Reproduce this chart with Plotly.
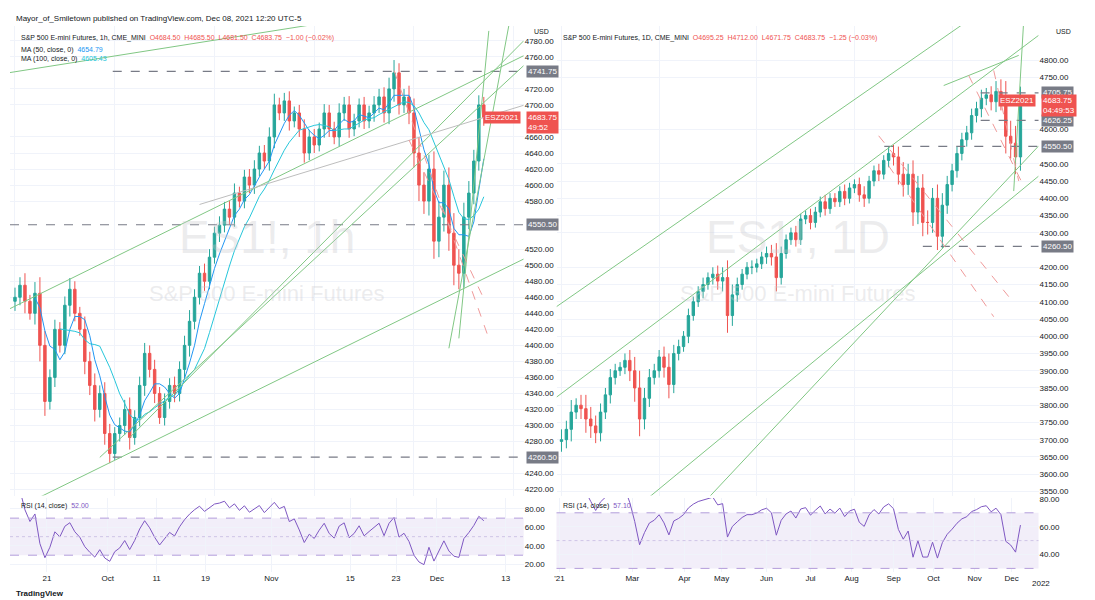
import numpy as np
import pandas as pd
import plotly.graph_objects as go

# ES1! 1h (left panel) - approx closes
close_1h = [4460, 4475, 4455, 4440, 4465, 4400, 4330, 4360, 4420, 4400, 4450, 4470, 4440, 4420, 4380,
            4350, 4320, 4340, 4290, 4265, 4290, 4300, 4320, 4285, 4310, 4350, 4390, 4370, 4340, 4310,
            4330, 4350, 4340, 4370, 4400, 4430, 4460, 4490, 4480, 4510, 4540, 4550, 4570, 4560, 4590,
            4580, 4610, 4600, 4620, 4640, 4630, 4660, 4700, 4690, 4705, 4680, 4690, 4670, 4640, 4660,
            4650, 4670, 4690, 4670, 4660, 4690, 4700, 4670, 4680, 4700, 4680, 4690, 4700, 4710, 4690,
            4720, 4740, 4700, 4710, 4690, 4640, 4600, 4580, 4620, 4530, 4560, 4600, 4540, 4500, 4490,
            4560, 4590, 4630, 4700, 4684]
wick_1h = [12, 10, 15, 8, 14, 20, 18, 10, 12, 9, 11, 14, 10, 8, 16, 12, 15, 10, 14, 12, 8, 10, 12, 15,
           9, 11, 13, 10, 12, 8, 10, 9, 11, 10, 12, 14, 10, 9, 12, 10, 8, 11, 9, 10, 12, 8, 9, 10, 11,
           9, 10, 12, 14, 9, 10, 12, 8, 10, 12, 9, 10, 8, 11, 10, 9, 12, 10, 11, 9, 8, 10, 9, 11, 10,
           12, 14, 16, 12, 10, 14, 18, 20, 16, 18, 22, 20, 18, 22, 25, 20, 18, 15, 14, 12, 10]
ticks_1h_pos = [6.4, 18.6, 28.4, 38.2, 51.4, 67.2, 76.4, 84.6, 98.4]
ticks_1h_txt = ["21", "Oct", "11", "19", "Nov", "15", "23", "Dec", "13"]
levels_1h = [4741.75, 4550.50, 4260.50]

# ES1! 1D (right panel)
close_1d = [3700, 3730, 3780, 3800, 3790, 3760, 3740, 3720, 3780, 3830, 3880, 3900, 3910, 3930, 3900,
            3850, 3760, 3820, 3880, 3900, 3940, 3910, 3860, 3950, 3970, 4000, 4060, 4100, 4130, 4150,
            4170, 4180, 4160, 4170, 4060, 4120, 4150, 4180, 4200, 4200, 4210, 4230, 4240, 4230, 4170,
            4240, 4280, 4300, 4280, 4340, 4350, 4330, 4360, 4390, 4370, 4400, 4390, 4420, 4400, 4430,
            4440, 4410, 4400, 4450, 4480, 4470, 4510, 4530, 4520, 4470, 4440, 4470, 4360, 4430, 4330,
            4330, 4400, 4290, 4380, 4440, 4480, 4530, 4570, 4590, 4640, 4660, 4690, 4700, 4680, 4710,
            4690, 4580, 4560, 4520, 4684]
wick_1d = [30, 25, 35, 20, 30, 40, 35, 30, 25, 20, 25, 20, 15, 20, 30, 40, 50, 30, 25, 20, 20, 30, 40,
           25, 20, 15, 20, 15, 15, 20, 15, 20, 25, 30, 50, 30, 20, 15, 15, 20, 15, 15, 20, 25, 40, 20,
           15, 15, 20, 15, 15, 20, 15, 15, 20, 15, 15, 15, 20, 15, 15, 20, 25, 15, 15, 20, 15, 20, 25,
           30, 35, 30, 40, 35, 40, 35, 30, 40, 35, 25, 20, 20, 20, 20, 20, 20, 25, 20, 25, 30, 35, 50,
           45, 50, 40]
ticks_1d_pos = [-0.4, 14.5, 25.2, 32.8, 42, 51, 59.4, 68, 76.2, 84.6, 92.2]
ticks_1d_txt = ["'21", "Mar", "Apr", "May", "Jun", "Jul", "Aug", "Sep", "Oct", "Nov", "Dec"]
levels_1d = [4705.75, 4626.25, 4550.50, 4260.50]

UP, DN = "#26a69a", "#ef5350"
FONT = "Liberation Sans"


def ohlc(closes, wicks):
    c = np.array(closes, float)
    o = np.r_[c[0] - 5, c[:-1]]
    w = np.array(wicks, float)
    return o, np.maximum(o, c) + w, np.minimum(o, c) - w, c


def rsi(c, n):
    d = pd.Series(c).diff()
    up = d.clip(lower=0).ewm(alpha=1 / n, adjust=False).mean()
    dn = (-d.clip(upper=0)).ewm(alpha=1 / n, adjust=False).mean()
    return (100 - 100 / (1 + up / dn.replace(0, 1e-9))).values


def price_ticks(lo, hi, step, busy, gap):
    # axis ticks, skipping those hidden behind the price-label boxes
    return [t for t in np.arange(lo, hi + 1, step) if all(abs(t - b) > gap for b in busy)]


fig = go.Figure()

L_y = (4212.6, 4798.6); R_y = (3538, 4900)
L_x = (-1, 102); R_x = (-1.02, 97.7)


def lx(p): return (p - 5) / 5
def ly(p): return 4780 - (p - 30) / 0.808
def rx(p): return (p - 553) / 4.88
def ry(p): return 4800 - (p - 55) / 0.343


for closes, wicks, xa, ya, rxa, rya, n, ma in [
        (close_1h, wick_1h, "x", "y", "x2", "y2", 6, True),
        (close_1d, wick_1d, "x3", "y3", "x4", "y4", 9, False)]:
    o, h, l, c = ohlc(closes, wicks)
    idx = np.arange(len(c))
    fig.add_trace(go.Candlestick(x=idx, open=o, high=h, low=l, close=c, xaxis=xa, yaxis=ya,
                                 increasing=dict(line=dict(color=UP, width=1), fillcolor=UP),
                                 decreasing=dict(line=dict(color=DN, width=1), fillcolor=DN),
                                 whiskerwidth=0, showlegend=False))
    if ma:
        fig.add_trace(go.Scatter(x=idx, y=pd.Series(c).rolling(5).mean(), xaxis=xa, yaxis=ya,
                                 mode="lines", line=dict(color="#2196f3", width=1), showlegend=False))
        fig.add_trace(go.Scatter(x=idx, y=pd.Series(c).rolling(10).mean(), xaxis=xa, yaxis=ya,
                                 mode="lines", line=dict(color="#26c6da", width=1), showlegend=False))
    r = rsi(c, n)
    fig.add_trace(go.Scatter(x=idx, y=r, xaxis=rxa, yaxis=rya, mode="lines",
                             line=dict(color="#7e57c2", width=1), showlegend=False))

shapes = []
for xa, ya in [("x2", "y2"), ("x4", "y4")]:
    shapes.append(dict(type="rect", xref=xa + " domain", yref=ya, x0=0, x1=1, y0=30, y1=70,
                       fillcolor="rgba(126,87,194,0.1)", line_width=0, layer="below"))
    for v in (30, 70):
        shapes.append(dict(type="line", xref=xa + " domain", yref=ya, x0=0, x1=1, y0=v, y1=v,
                           line=dict(color="#b39ddb", width=1, dash="dash")))
    shapes.append(dict(type="line", xref=xa + " domain", yref=ya, x0=0, x1=1, y0=50, y1=50,
                       line=dict(color="#cfc4e6", width=1, dash="dot")))

for v in levels_1h:
    shapes.append(dict(type="line", xref="x domain", yref="y", x0=0 if v == 4550.50 else 0.2, x1=1,
                       y0=v, y1=v, line=dict(color="#787b86", width=1.2, dash="dash")))
for v in levels_1d:
    x0 = {4705.75: 0.88, 4626.25: 0.88, 4550.50: 0.68, 4260.50: 0.76}[v]
    shapes.append(dict(type="line", xref="x3 domain", yref="y3", x0=x0, x1=1, y0=v, y1=v,
                       line=dict(color="#787b86", width=1.2, dash="dash")))

G = dict(color="#81c784", width=1)
RD = dict(color="#ef9a9a", width=1, dash="dash")
for (x0, y0, x1, y1), ln in [
        ((0, 62, 515, -20), G), ((0, 300, 515, 45), G), ((30, 490, 515, 250), G),
        ((90, 450, 515, 55), G), ((120, 430, 515, 30), G), ((440, 340, 500, 15), G),
        ((450, 330, 480, 20), G), ((190, 195, 515, 95), dict(color="#bdbdbd", width=1)),
        ((385, 60, 480, 330), RD), ((400, 130, 475, 290), RD)]:
    shapes.append(dict(type="line", xref="x", yref="y", x0=lx(x0), y0=ly(y0), x1=lx(x1), y1=ly(y1), line=ln))
for (x0, y0, x1, y1), ln in [
        ((548, 300, 960, 15), G), ((548, 390, 1030, 30), G), ((640, 490, 1030, 170), G),
        ((700, 490, 1030, 140), G), ((935, 80, 1010, 50), G), ((1005, 185, 1015, 15), G),
        ((870, 130, 1000, 290), RD), ((880, 160, 985, 310), RD), ((960, 70, 1015, 180), RD),
        ((985, 65, 1010, 175), RD)]:
    shapes.append(dict(type="line", xref="x3", yref="y3", x0=rx(x0), y0=ry(y0), x1=rx(x1), y1=ry(y1), line=ln))

ann = []
F = dict(family=FONT, size=8, color="#131722")
ann.append(dict(text="Mayor_of_Smiletown published on TradingView.com, Dec 08, 2021 12:20 UTC-5",
                xref="paper", yref="paper", x=0.004, y=0.999, showarrow=False, xanchor="left", yanchor="top", font=F))
ann.append(dict(text="S&P 500 E-mini Futures, 1h, CME_MINI  <span style='color:#ef5350'>O4684.50  H4685.50  L4681.50  C4683.75  −1.00 (−0.02%)</span>",
                xref="paper", yref="paper", x=0.008, y=0.965, showarrow=False, xanchor="left", yanchor="top", font=dict(F, size=7)))
ann.append(dict(text="MA (50, close, 0)  <span style='color:#2196f3'>4654.79</span><br>MA (100, close, 0)  <span style='color:#26c6da'>4605.43</span>",
                xref="paper", yref="paper", x=0.008, y=0.945, showarrow=False, xanchor="left", yanchor="top", align="left", font=dict(F, size=7)))
ann.append(dict(text="S&P 500 E-mini Futures, 1D, CME_MINI  <span style='color:#ef5350'>O4695.25  H4712.00  L4671.75  C4683.75  −1.25 (−0.03%)</span>",
                xref="paper", yref="paper", x=0.504, y=0.965, showarrow=False, xanchor="left", yanchor="top", font=dict(F, size=7)))
ann.append(dict(text="RSI (14, close)  <span style='color:#7e57c2'>52.00</span>", xref="paper", yref="paper",
                x=0.008, y=0.18, showarrow=False, xanchor="left", yanchor="top", font=dict(F, size=7)))
ann.append(dict(text="RSI (14, close)  <span style='color:#7e57c2'>57.10</span>", xref="paper", yref="paper",
                x=0.504, y=0.18, showarrow=False, xanchor="left", yanchor="top", font=dict(F, size=7)))
WM = "rgba(200,200,205,0.35)"
ann += [dict(text="ES1!, 1h", xref="x domain", yref="y domain", x=0.5, y=0.55, showarrow=False, font=dict(family=FONT, size=46, color=WM)),
        dict(text="S&P 500 E-mini Futures", xref="x domain", yref="y domain", x=0.5, y=0.43, showarrow=False, font=dict(family=FONT, size=22, color=WM)),
        dict(text="ES1!, 1D", xref="x3 domain", yref="y3 domain", x=0.5, y=0.55, showarrow=False, font=dict(family=FONT, size=46, color=WM)),
        dict(text="S&P 500 E-mini Futures", xref="x3 domain", yref="y3 domain", x=0.5, y=0.43, showarrow=False, font=dict(family=FONT, size=22, color=WM))]
for v in levels_1h:
    ann.append(dict(text="%.2f" % v, xref="x domain", yref="y", x=1.005, y=v, showarrow=False, xanchor="left",
                    bgcolor="#787b86", font=dict(family=FONT, size=8, color="white"), borderpad=1))
for v in levels_1d:
    ann.append(dict(text="%.2f" % v, xref="x3 domain", yref="y3", x=1.005, y=v, showarrow=False, xanchor="left",
                    bgcolor="#787b86", font=dict(family=FONT, size=8, color="white"), borderpad=1))
ann += [dict(text="4683.75<br>49:52", xref="x domain", yref="y", x=1.005, y=4678, showarrow=False, xanchor="left",
             bgcolor=DN, font=dict(family=FONT, size=8, color="white"), borderpad=1, align="left"),
        dict(text="ESZ2021", xref="x domain", yref="y", x=0.995, y=4683.75, showarrow=False, xanchor="right",
             bgcolor=DN, font=dict(family=FONT, size=8, color="white"), borderpad=1),
        dict(text="4683.75<br>04:49:53", xref="x3 domain", yref="y3", x=1.005, y=4670, showarrow=False, xanchor="left",
             bgcolor=DN, font=dict(family=FONT, size=8, color="white"), borderpad=1, align="left"),
        dict(text="ESZ2021", xref="x3 domain", yref="y3", x=0.995, y=4683.75, showarrow=False, xanchor="right",
             bgcolor=DN, font=dict(family=FONT, size=8, color="white"), borderpad=1),
        dict(text="USD", xref="paper", yref="paper", x=0.478, y=0.975, showarrow=False, xanchor="left", yanchor="top", font=dict(F, size=7)),
        dict(text="USD", xref="paper", yref="paper", x=0.955, y=0.975, showarrow=False, xanchor="left", yanchor="top", font=dict(F, size=7)),
        dict(text="2022", xref="paper", yref="paper", x=0.953, y=0.04, showarrow=False, yanchor="middle", font=dict(F, size=8)),
        dict(text="<b>TradingView</b>", xref="paper", yref="paper", x=0.004, y=0.012, showarrow=False, xanchor="left", yanchor="bottom", font=dict(F, size=8))]

ax = dict(showgrid=True, gridcolor="#f0f3fa", zeroline=False, showline=False,
          tickfont=dict(family=FONT, size=8, color="#131722"), fixedrange=True)
tv_l = price_ticks(4220, 4780, 20, levels_1h + [4683.75, 4676], 12)
tv_r = price_ticks(3550, 4800, 50, levels_1d + [4683.75, 4660], 22)
fig.update_layout(
    width=1095, height=600, margin=dict(l=0, r=0, t=0, b=0), paper_bgcolor="white", plot_bgcolor="white",
    showlegend=False, shapes=shapes, annotations=ann,
    xaxis=dict(ax, domain=[0, 0.47], range=list(L_x), showticklabels=False, rangeslider=dict(visible=False), anchor="y"),
    yaxis=dict(ax, domain=[0.187, 0.975], range=list(L_y), side="right", tickvals=tv_l, tickformat=".2f", anchor="x"),
    xaxis2=dict(ax, domain=[0, 0.47], range=list(L_x), tickvals=ticks_1h_pos, ticktext=ticks_1h_txt, anchor="y2", matches="x"),
    yaxis2=dict(ax, domain=[0.058, 0.183], range=[11.4, 91.8], side="right", tickvals=[20, 40, 60, 80], tickformat=".2f", anchor="x2"),
    xaxis3=dict(ax, domain=[0.5, 0.941], range=list(R_x), showticklabels=False, rangeslider=dict(visible=False), anchor="y3"),
    yaxis3=dict(ax, domain=[0.187, 0.975], range=list(R_y), side="right", tickvals=tv_r, tickformat=".2f", anchor="x3"),
    xaxis4=dict(ax, domain=[0.5, 0.941], range=list(R_x), tickvals=ticks_1d_pos, ticktext=ticks_1d_txt, anchor="y4"),
    yaxis4=dict(ax, domain=[0.058, 0.183], range=[27.1, 80.7], side="right", tickvals=[40, 60, 80], tickformat=".2f", anchor="x4"),
)
fig.write_html("out.html")
